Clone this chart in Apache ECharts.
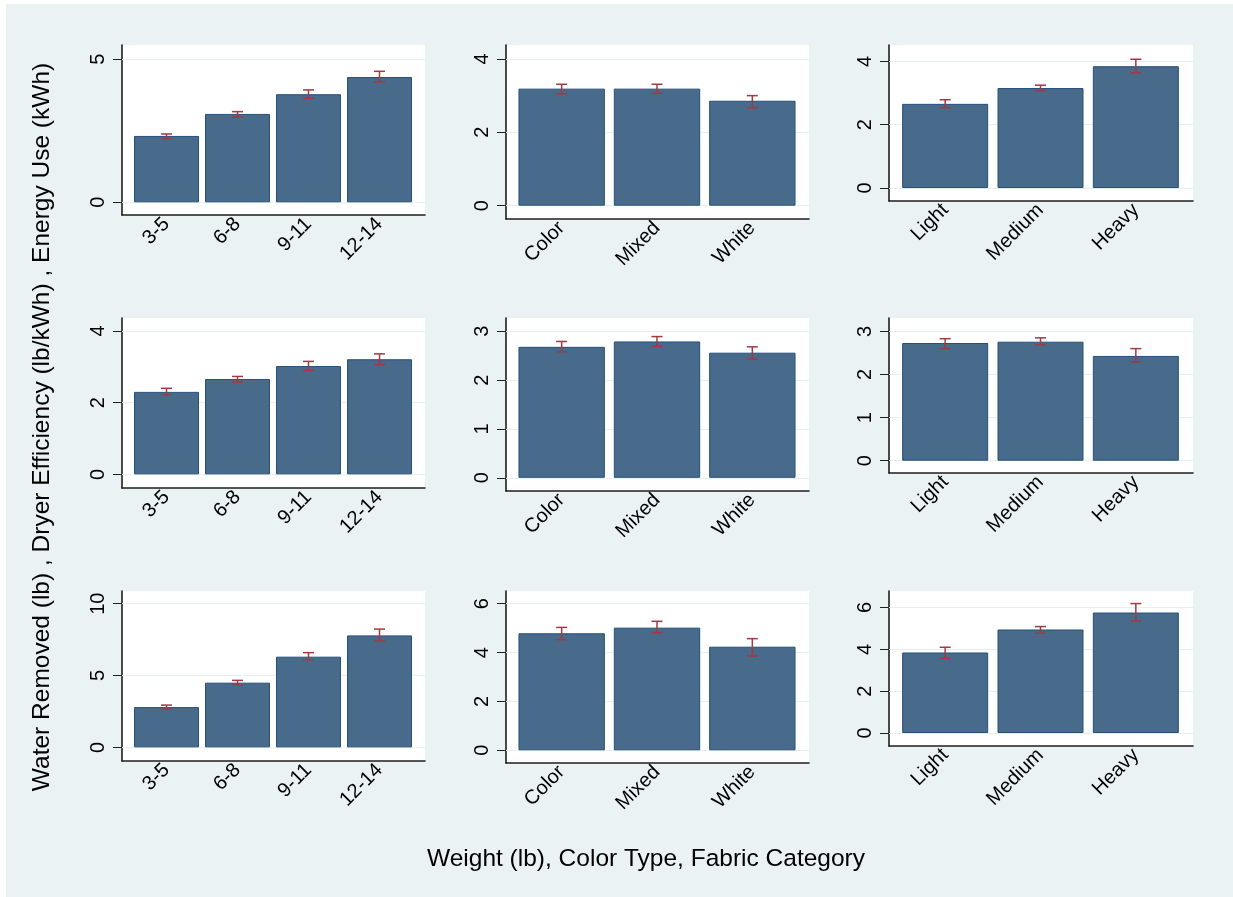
<!DOCTYPE html>
<html>
<head>
<meta charset="utf-8">
<script src="https://cdn.jsdelivr.net/npm/echarts@6.0.0/dist/echarts.min.js"></script>
<style>
  html, body { margin: 0; padding: 0; background: #ffffff; }
  #wrap { position: relative; width: 1233px; height: 897px; overflow: hidden; }
  #bg { position: absolute; left: 6px; top: 4px; width: 1227px; height: 893px; background: #eaf2f3; }
  #chart { position: absolute; left: 0; top: 0; width: 1233px; height: 897px; }
</style>
</head>
<body>
<div id="wrap"><div id="bg"></div><div id="chart"></div></div>
<script>
// ---------------- DATA ----------------
const weightCats = ['3-5', '6-8', '9-11', '12-14'];
const colorCats = ['Color', 'Mixed', 'White'];
const fabricCats = ['Light', 'Medium', 'Heavy'];

// Energy Use (kWh)
const energyWeight   = [2.32, 3.09, 3.78, 4.38];
const energyWeightLo = [2.22, 2.98, 3.64, 4.21];
const energyWeightHi = [2.39, 3.17, 3.93, 4.58];
const energyColor    = [3.19, 3.19, 2.86];
const energyColorLo  = [3.05, 3.07, 2.67];
const energyColorHi  = [3.31, 3.31, 3.00];
const energyFabric   = [2.66, 3.16, 3.85];
const energyFabricLo = [2.54, 3.07, 3.64];
const energyFabricHi = [2.79, 3.25, 4.07];

// Dryer Efficiency (lb/kWh)
const effWeight   = [2.30, 2.66, 3.02, 3.21];
const effWeightLo = [2.21, 2.57, 2.90, 3.06];
const effWeightHi = [2.40, 2.73, 3.15, 3.36];
const effColor    = [2.68, 2.79, 2.56];
const effColorLo  = [2.58, 2.69, 2.43];
const effColorHi  = [2.79, 2.89, 2.68];
const effFabric   = [2.73, 2.76, 2.43];
const effFabricLo = [2.60, 2.69, 2.29];
const effFabricHi = [2.83, 2.85, 2.60];

// Water Removed (lb)
const waterWeight   = [2.80, 4.50, 6.31, 7.79];
const waterWeightLo = [2.67, 4.34, 6.10, 7.40];
const waterWeightHi = [2.94, 4.66, 6.59, 8.23];
const waterColor    = [4.79, 5.02, 4.24];
const waterColorLo  = [4.53, 4.81, 3.86];
const waterColorHi  = [5.03, 5.28, 4.57];
const waterFabric   = [3.85, 4.95, 5.76];
const waterFabricLo = [3.57, 4.77, 5.36];
const waterFabricHi = [4.10, 5.09, 6.19];

// Tick labels
const ticksEnergyWeight = [0, 5];
const ticksEnergyColor  = [0, 2, 4];
const ticksEnergyFabric = [0, 2, 4];
const ticksEffWeight    = [0, 2, 4];
const ticksEffColor     = [0, 1, 2, 3];
const ticksEffFabric    = [0, 1, 2, 3];
const ticksWaterWeight  = [0, 5, 10];
const ticksWaterColor   = [0, 2, 4, 6];
const ticksWaterFabric  = [0, 2, 4, 6];

const yTitle = 'Water Removed (lb) , Dryer Efficiency (lb/kWh) , Energy Use (kWh)';
const xTitle = 'Weight (lb), Color Type, Fabric Category';

// ---------------- LAYOUT / STYLE ----------------
const FONT = "'Liberation Sans', Arial, sans-serif";
const AX = '#1e1e1e';
const GRIDC = '#e7eff1';
const BAR = '#486a8b';
const BARB = '#24507a';
const ERR = '#a23a42';
const TICKFS = 20;
const TITLEFS = 24.5;

const cols = [
  { x0: 122, x1: 425, bx0: 131,   bx1: 415,   gap: '8.5%' },
  { x0: 506, x1: 809, bx0: 514,   bx1: 800,   gap: '9.4%' },
  { x0: 889, x1: 1193, bx0: 897.5, bx1: 1183.5, gap: '9.8%' }
];
const rowTops = [45, 318, 591];

const panels = [
  { row: 0, col: 0, bottom: 215, min: -0.444, max: 5.50, cats: weightCats, vals: energyWeight, lo: energyWeightLo, hi: energyWeightHi, ticks: ticksEnergyWeight },
  { row: 0, col: 1, bottom: 219, min: -0.363, max: 4.38, cats: colorCats,  vals: energyColor,  lo: energyColorLo,  hi: energyColorHi,  ticks: ticksEnergyColor },
  { row: 0, col: 2, bottom: 201, min: -0.41,  max: 4.52, cats: fabricCats, vals: energyFabric, lo: energyFabricLo, hi: energyFabricHi, ticks: ticksEnergyFabric },
  { row: 1, col: 0, bottom: 488, min: -0.38,  max: 4.36, cats: weightCats, vals: effWeight,    lo: effWeightLo,    hi: effWeightHi,    ticks: ticksEffWeight },
  { row: 1, col: 1, bottom: 491, min: -0.27,  max: 3.27, cats: colorCats,  vals: effColor,     lo: effColorLo,     hi: effColorHi,     ticks: ticksEffColor },
  { row: 1, col: 2, bottom: 473, min: -0.285, max: 3.31, cats: fabricCats, vals: effFabric,    lo: effFabricLo,    hi: effFabricHi,    ticks: ticksEffFabric },
  { row: 2, col: 0, bottom: 761, min: -0.95,  max: 10.88, cats: weightCats, vals: waterWeight, lo: waterWeightLo,  hi: waterWeightHi,  ticks: ticksWaterWeight },
  { row: 2, col: 1, bottom: 763, min: -0.52,  max: 6.52, cats: colorCats,  vals: waterColor,   lo: waterColorLo,   hi: waterColorHi,   ticks: ticksWaterColor },
  { row: 2, col: 2, bottom: 746, min: -0.62,  max: 6.79, cats: fabricCats, vals: waterFabric,  lo: waterFabricLo,  hi: waterFabricHi,  ticks: ticksWaterFabric }
];

function renderErr(params, api) {
  const x = api.value(0), lo = api.value(1), hi = api.value(2);
  const a = api.coord([x, lo]);
  const b = api.coord([x, hi]);
  const hw = 5.5;
  const st = { stroke: ERR, lineWidth: 1.5 };
  return {
    type: 'group',
    children: [
      { type: 'line', shape: { x1: a[0], y1: a[1], x2: b[0], y2: b[1] }, style: st },
      { type: 'line', shape: { x1: a[0] - hw, y1: a[1], x2: a[0] + hw, y2: a[1] }, style: st },
      { type: 'line', shape: { x1: b[0] - hw, y1: b[1], x2: b[0] + hw, y2: b[1] }, style: st }
    ]
  };
}

const grid = [], xAxis = [], yAxis = [], series = [];
panels.forEach((p, k) => {
  const c = cols[p.col];
  const top = rowTops[p.row];
  const h = p.bottom - top;
  const go = 2 * k, gi = 2 * k + 1;
  grid.push({ left: c.x0, top: top, width: c.x1 - c.x0, height: h, show: true, backgroundColor: '#ffffff', borderWidth: 0 });
  grid.push({ left: c.bx0, top: top, width: c.bx1 - c.bx0, height: h, show: false });

  xAxis.push({
    gridIndex: go, type: 'value', min: 0, max: 1, position: 'bottom',
    axisLine: { show: true, onZero: false, lineStyle: { color: AX, width: 1.6 } },
    axisTick: { show: false }, axisLabel: { show: false }, splitLine: { show: false }
  });
  xAxis.push({
    gridIndex: gi, type: 'category', data: p.cats, position: 'bottom',
    axisLine: { show: false }, axisTick: { show: false }, splitLine: { show: false },
    axisLabel: { interval: 0, rotate: 45, margin: 6, fontSize: TICKFS, color: '#000', fontFamily: FONT }
  });
  yAxis.push({
    gridIndex: go, type: 'value', min: p.min, max: p.max, position: 'left',
    axisLine: { show: true, onZero: false, lineStyle: { color: AX, width: 1.6 } },
    axisTick: { show: true, customValues: p.ticks, length: 9, lineStyle: { color: AX, width: 1 } },
    axisLabel: { customValues: p.ticks, rotate: 90, margin: 14, fontSize: TICKFS, color: '#000', fontFamily: FONT },
    splitLine: { show: false }
  });
  yAxis.push({ gridIndex: gi, type: 'value', min: p.min, max: p.max, show: false });

  series.push({
    type: 'line', xAxisIndex: go, yAxisIndex: go, data: [], symbol: 'none', silent: true, z: 1,
    markLine: {
      silent: true, z: 1, symbol: ['none', 'none'], label: { show: false },
      lineStyle: { color: GRIDC, width: 1.2, type: 'solid' },
      data: p.ticks.map(v => ({ yAxis: v }))
    }
  });
  series.push({
    type: 'bar', xAxisIndex: gi, yAxisIndex: gi, data: p.vals, barCategoryGap: c.gap, z: 3, silent: true,
    itemStyle: { color: BAR, borderColor: BARB, borderWidth: 1 }
  });
  series.push({
    type: 'custom', xAxisIndex: gi, yAxisIndex: gi, z: 4, silent: true,
    data: p.cats.map((_, i) => [i, p.lo[i], p.hi[i]]),
    encode: { x: 0, y: [1, 2] },
    renderItem: renderErr
  });
});

const option = {
  animation: false,
  grid, xAxis, yAxis, series,
  graphic: [
    { type: 'text', x: 42, y: 427, rotation: Math.PI / 2, silent: true,
      style: { text: yTitle, fontSize: TITLEFS, fontFamily: FONT, fill: '#000', textAlign: 'center', textVerticalAlign: 'middle' } },
    { type: 'text', x: 646, y: 859, silent: true,
      style: { text: xTitle, fontSize: TITLEFS, fontFamily: FONT, fill: '#000', textAlign: 'center', textVerticalAlign: 'middle' } }
  ]
};

const chart = echarts.init(document.getElementById('chart'), null, { renderer: 'canvas', width: 1233, height: 897 });
chart.setOption(option);
</script>
</body>
</html>
